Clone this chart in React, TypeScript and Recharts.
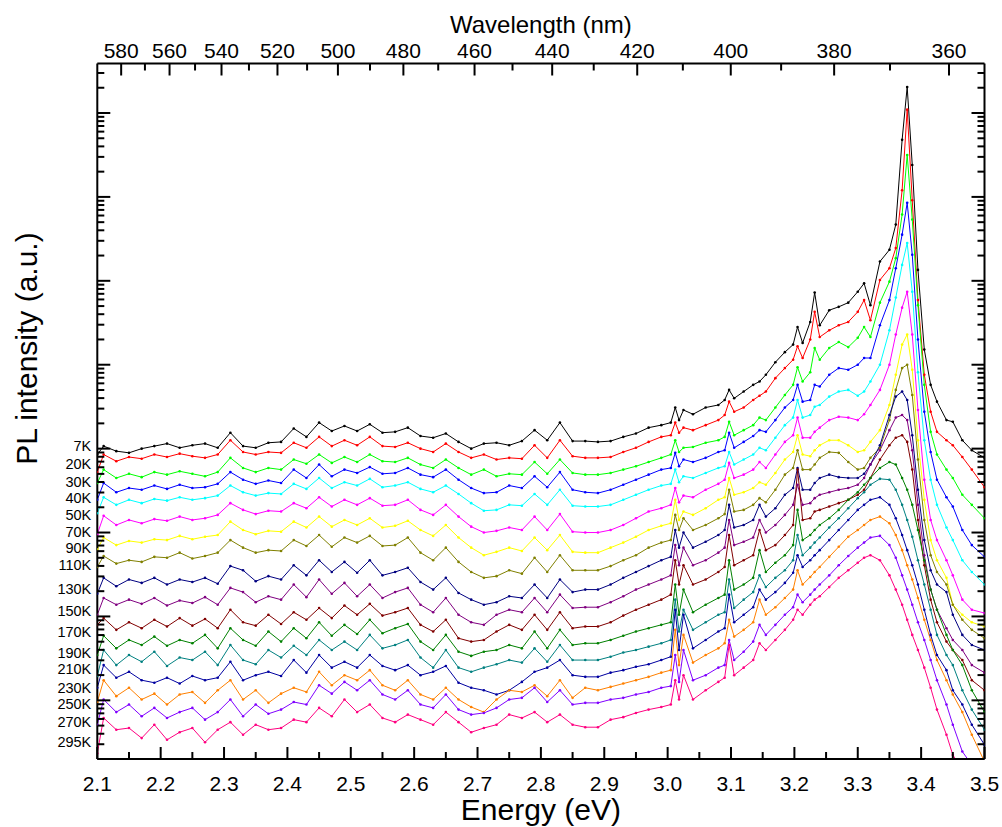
import React from "react";
import { LineChart, Line, XAxis, YAxis, ReferenceDot } from "recharts";

const FONT = "'Liberation Sans', Arial, Helvetica, sans-serif";

// photon energy (eV) of the samples, shared by all spectra
const energy = [
  2.1, 2.11, 2.13, 2.15, 2.17, 2.19, 2.21, 2.23, 2.25, 2.27, 2.29, 2.31, 2.33, 2.35, 2.37, 2.39, 2.41, 2.43, 2.45, 2.47,
  2.49, 2.51, 2.53, 2.55, 2.57, 2.59, 2.61, 2.63, 2.65, 2.67, 2.69, 2.71, 2.73, 2.75, 2.77, 2.79, 2.81, 2.83, 2.85, 2.87,
  2.89, 2.91, 2.93, 2.95, 2.97, 2.99, 3.005, 3.012, 3.018, 3.025, 3.04, 3.06, 3.08, 3.09, 3.097, 3.105, 3.12, 3.135,
  3.145, 3.155, 3.17, 3.185, 3.198, 3.205, 3.213, 3.225, 3.232, 3.24, 3.255, 3.27, 3.285, 3.3, 3.31, 3.32, 3.335, 3.35,
  3.36, 3.37, 3.378, 3.386, 3.395, 3.405, 3.415, 3.425, 3.44, 3.45, 3.465, 3.48, 3.5,
];

// log10 of the PL intensity (offset spectra), one array per temperature
const k7 = [
  3.93, 4.03, 3.97, 3.95, 4.0, 4.03, 4.06, 4.01, 4.04, 4.06, 4.01, 4.19, 4.03, 4.01, 4.07, 4.08, 4.24, 4.14, 4.31, 4.21,
  4.27, 4.21, 4.29, 4.19, 4.2, 4.25, 4.15, 4.13, 4.18, 4.08, 4.0, 4.06, 4.07, 4.04, 4.09, 4.22, 4.1, 4.31, 4.09, 4.09,
  4.08, 4.09, 4.14, 4.18, 4.25, 4.28, 4.31, 4.49, 4.34, 4.46, 4.41, 4.49, 4.52, 4.58, 4.7, 4.6, 4.68, 4.76, 4.8, 4.88,
  5.03, 5.15, 5.24, 5.45, 5.26, 5.51, 5.86, 5.47, 5.65, 5.69, 5.74, 5.87, 5.97, 5.71, 6.23, 6.37, 6.67, 7.68, 8.31, 7.38,
  6.13, 5.18, 4.76, 4.56, 4.34, 4.32, 4.1, 3.98, 3.89,
];
const k20 = [
  3.72, 3.93, 3.85, 3.9, 3.88, 3.93, 3.9, 3.94, 3.91, 3.89, 3.93, 4.1, 3.96, 3.93, 3.96, 3.95, 4.07, 4.01, 4.14, 4.03,
  4.1, 4.04, 4.14, 4.03, 4.02, 4.07, 4.0, 3.96, 4.06, 3.96, 3.89, 3.93, 3.87, 3.89, 3.88, 4.04, 3.89, 4.1, 3.91, 3.89,
  3.89, 3.9, 3.96, 4.01, 4.08, 4.14, 4.16, 4.31, 4.19, 4.25, 4.22, 4.28, 4.34, 4.4, 4.56, 4.44, 4.49, 4.58, 4.63, 4.68,
  4.84, 4.96, 5.06, 5.22, 5.08, 5.3, 5.63, 5.33, 5.41, 5.47, 5.51, 5.63, 5.77, 5.53, 6.01, 6.15, 6.39, 7.08, 8.04, 6.96,
  5.77, 4.88, 4.44, 4.2, 4.1, 4.04, 3.9, 3.75, 3.54,
];
const k30 = [
  3.59, 3.75, 3.65, 3.7, 3.66, 3.72, 3.69, 3.73, 3.7, 3.67, 3.72, 3.89, 3.77, 3.72, 3.77, 3.75, 3.87, 3.82, 3.93, 3.83,
  3.9, 3.84, 3.93, 3.85, 3.84, 3.89, 3.81, 3.77, 3.87, 3.77, 3.69, 3.75, 3.67, 3.7, 3.69, 3.84, 3.7, 3.87, 3.71, 3.69,
  3.69, 3.71, 3.75, 3.79, 3.84, 3.89, 3.93, 4.1, 3.96, 4.01, 4.02, 4.07, 4.1, 4.14, 4.32, 4.16, 4.22, 4.28, 4.37, 4.34,
  4.49, 4.64, 4.76, 4.97, 4.8, 4.91, 5.2, 5.06, 5.2, 5.27, 5.21, 5.32, 5.45, 5.33, 5.74, 5.99, 6.27, 6.79, 7.5, 6.73,
  5.71, 4.76, 4.2, 3.93, 3.75, 3.65, 3.45, 3.33, 3.17,
];
const k40 = [
  3.39, 3.59, 3.48, 3.53, 3.51, 3.56, 3.52, 3.57, 3.53, 3.54, 3.58, 3.72, 3.63, 3.58, 3.62, 3.59, 3.75, 3.65, 3.81, 3.67,
  3.75, 3.71, 3.78, 3.7, 3.71, 3.77, 3.69, 3.66, 3.75, 3.63, 3.53, 3.47, 3.48, 3.56, 3.53, 3.67, 3.54, 3.72, 3.51, 3.48,
  3.47, 3.51, 3.57, 3.63, 3.69, 3.75, 3.77, 3.95, 3.79, 3.87, 3.84, 3.89, 3.96, 3.98, 4.19, 4.01, 4.08, 4.15, 4.22, 4.2,
  4.34, 4.49, 4.58, 4.76, 4.56, 4.58, 4.76, 4.74, 4.88, 4.96, 4.94, 5.0, 5.08, 5.08, 5.47, 5.77, 6.15, 6.55, 6.93, 6.31,
  5.3, 4.44, 3.96, 3.63, 3.42, 3.31, 3.03, 2.85, 2.71,
];
const k50 = [
  3.23, 3.42, 3.33, 3.39, 3.35, 3.4, 3.38, 3.42, 3.39, 3.41, 3.44, 3.56, 3.48, 3.44, 3.47, 3.46, 3.58, 3.52, 3.65, 3.53,
  3.6, 3.56, 3.64, 3.54, 3.56, 3.6, 3.52, 3.48, 3.56, 3.46, 3.35, 3.26, 3.27, 3.33, 3.32, 3.46, 3.33, 3.51, 3.32, 3.31,
  3.31, 3.33, 3.39, 3.45, 3.51, 3.56, 3.58, 3.75, 3.6, 3.67, 3.65, 3.71, 3.77, 3.79, 3.96, 3.81, 3.87, 3.93, 4.01, 3.98,
  4.13, 4.28, 4.37, 4.58, 4.37, 4.4, 4.5, 4.52, 4.62, 4.68, 4.7, 4.63, 4.68, 4.8, 5.0, 5.41, 5.8, 6.19, 6.45, 5.87,
  4.91, 4.1, 3.63, 3.33, 3.06, 2.91, 2.67, 2.53, 2.38,
];
const k70 = [
  2.98, 3.2, 3.09, 3.15, 3.11, 3.16, 3.14, 3.19, 3.15, 3.17, 3.21, 3.35, 3.27, 3.22, 3.26, 3.25, 3.35, 3.29, 3.42, 3.31,
  3.39, 3.33, 3.41, 3.32, 3.33, 3.39, 3.27, 3.21, 3.33, 3.19, 3.07, 3.0, 3.02, 3.06, 3.03, 3.19, 3.03, 3.22, 3.01, 3.0,
  3.0, 3.03, 3.09, 3.17, 3.25, 3.29, 3.33, 3.53, 3.36, 3.44, 3.42, 3.51, 3.58, 3.63, 3.83, 3.65, 3.69, 3.75, 3.84, 3.77,
  3.93, 4.08, 4.16, 4.37, 4.13, 4.13, 4.2, 4.25, 4.34, 4.38, 4.37, 4.34, 4.41, 4.52, 4.7, 5.0, 5.36, 5.68, 5.87, 5.36,
  4.46, 3.63, 3.15, 2.91, 2.67, 2.49, 2.2, 2.08, 2.04,
];
const k90 = [
  2.8, 2.94, 2.85, 2.9, 2.88, 2.92, 2.91, 2.96, 2.92, 2.95, 2.97, 3.13, 3.03, 2.98, 3.02, 3.01, 3.13, 3.06, 3.19, 3.07,
  3.15, 3.09, 3.17, 3.06, 3.08, 3.14, 3.03, 2.96, 3.09, 2.94, 2.82, 2.73, 2.77, 2.82, 2.78, 2.94, 2.79, 2.97, 2.77, 2.76,
  2.76, 2.82, 2.88, 2.95, 3.03, 3.08, 3.11, 3.39, 3.15, 3.25, 3.21, 3.29, 3.39, 3.42, 3.65, 3.45, 3.48, 3.53, 3.6, 3.57,
  3.71, 3.87, 3.96, 4.16, 3.93, 3.91, 3.98, 4.04, 4.1, 4.1, 4.04, 3.96, 3.98, 4.08, 4.22, 4.52, 4.88, 5.24, 5.36, 4.94,
  4.1, 3.39, 2.91, 2.67, 2.46, 2.14, 2.02, 1.93, 1.88,
];
const k110 = [
  2.59, 2.72, 2.63, 2.67, 2.65, 2.71, 2.7, 2.76, 2.69, 2.72, 2.76, 2.91, 2.82, 2.76, 2.79, 2.78, 2.91, 2.84, 2.97, 2.83,
  2.94, 2.88, 2.96, 2.84, 2.85, 2.94, 2.76, 2.67, 2.82, 2.65, 2.53, 2.46, 2.48, 2.55, 2.51, 2.7, 2.53, 2.73, 2.55, 2.55,
  2.55, 2.6, 2.67, 2.73, 2.82, 2.88, 2.91, 3.21, 3.03, 3.17, 3.03, 3.09, 3.17, 3.22, 3.51, 3.25, 3.27, 3.33, 3.41, 3.36,
  3.51, 3.69, 3.77, 3.98, 3.75, 3.75, 3.81, 3.89, 3.96, 3.95, 3.84, 3.75, 3.77, 3.89, 4.01, 4.34, 4.7, 4.96, 5.0, 4.64,
  3.87, 3.15, 2.73, 2.53, 2.38, 2.14, 1.96, 1.84, 1.74,
];
const k130 = [
  2.27, 2.46, 2.36, 2.44, 2.4, 2.46, 2.38, 2.44, 2.41, 2.46, 2.39, 2.6, 2.55, 2.42, 2.48, 2.44, 2.61, 2.49, 2.67, 2.53,
  2.65, 2.52, 2.67, 2.49, 2.53, 2.58, 2.41, 2.32, 2.46, 2.28, 2.2, 2.14, 2.17, 2.24, 2.22, 2.38, 2.22, 2.44, 2.29, 2.32,
  2.32, 2.38, 2.46, 2.53, 2.6, 2.67, 2.71, 3.03, 2.82, 3.0, 2.82, 2.89, 2.97, 3.03, 3.33, 3.06, 3.09, 3.15, 3.33, 3.19,
  3.29, 3.45, 3.53, 3.77, 3.51, 3.51, 3.59, 3.65, 3.69, 3.66, 3.65, 3.65, 3.7, 3.81, 4.04, 4.4, 4.62, 4.68, 4.58, 4.16,
  3.51, 2.91, 2.55, 2.38, 2.29, 2.02, 1.78, 1.66, 1.6,
];
const k150 = [
  2.02, 2.22, 2.14, 2.2, 2.15, 2.22, 2.13, 2.19, 2.16, 2.23, 2.14, 2.34, 2.29, 2.17, 2.24, 2.2, 2.38, 2.23, 2.44, 2.27,
  2.4, 2.24, 2.38, 2.22, 2.29, 2.34, 2.14, 2.05, 2.22, 2.02, 1.93, 1.9, 2.02, 2.08, 2.05, 2.22, 2.05, 2.26, 2.1, 2.11,
  2.11, 2.17, 2.24, 2.32, 2.38, 2.44, 2.49, 2.85, 2.61, 2.82, 2.61, 2.67, 2.76, 2.82, 3.15, 2.85, 2.89, 2.94, 3.15, 3.0,
  3.09, 3.21, 3.33, 3.57, 3.33, 3.35, 3.41, 3.45, 3.48, 3.51, 3.53, 3.57, 3.65, 3.81, 3.98, 4.22, 4.37, 4.4, 4.34, 3.98,
  3.33, 2.73, 2.32, 2.08, 1.86, 1.72, 1.6, 1.42, 1.33,
];
const k170 = [
  1.9, 1.98, 1.84, 1.93, 1.86, 1.96, 1.88, 1.98, 1.89, 1.97, 1.86, 2.08, 1.93, 1.89, 2.02, 1.91, 2.05, 1.96, 2.1, 1.98,
  2.13, 2.02, 2.15, 2.01, 2.05, 2.1, 1.9, 1.82, 1.96, 1.74, 1.7, 1.72, 1.82, 1.9, 1.84, 2.02, 1.84, 2.05, 1.86, 1.88,
  1.88, 1.93, 2.01, 2.08, 2.14, 2.2, 2.26, 2.67, 2.38, 2.61, 2.38, 2.44, 2.53, 2.59, 2.97, 2.61, 2.67, 2.73, 3.03, 2.79,
  2.85, 2.97, 3.09, 3.75, 3.15, 3.17, 3.25, 3.27, 3.31, 3.35, 3.39, 3.45, 3.51, 3.65, 3.87, 4.04, 4.13, 4.16, 4.08, 3.75,
  3.15, 2.61, 2.2, 1.93, 1.7, 1.6, 1.48, 1.24, 1.12,
];
const k190 = [
  1.54, 1.77, 1.62, 1.72, 1.66, 1.76, 1.65, 1.72, 1.68, 1.78, 1.62, 1.86, 1.72, 1.65, 1.82, 1.7, 1.86, 1.74, 1.93, 1.77,
  1.9, 1.79, 1.96, 1.8, 1.86, 1.91, 1.7, 1.6, 1.78, 1.58, 1.53, 1.58, 1.6, 1.66, 1.62, 1.82, 1.62, 1.84, 1.66, 1.68,
  1.68, 1.72, 1.77, 1.82, 1.86, 1.9, 1.93, 2.38, 2.02, 2.32, 2.05, 2.14, 2.22, 2.26, 2.67, 2.32, 2.38, 2.46, 2.79, 2.53,
  2.64, 2.73, 2.85, 3.27, 2.91, 2.97, 3.03, 3.09, 3.17, 3.27, 3.39, 3.48, 3.57, 3.65, 3.77, 3.84, 3.81, 3.65, 3.51, 3.33,
  3.03, 2.67, 2.32, 2.08, 1.78, 1.6, 1.42, 1.12, 0.86,
];
const k210 = [
  1.29, 1.6, 1.42, 1.54, 1.46, 1.58, 1.41, 1.51, 1.48, 1.58, 1.42, 1.66, 1.48, 1.43, 1.6, 1.51, 1.65, 1.54, 1.72, 1.6,
  1.7, 1.6, 1.78, 1.62, 1.66, 1.72, 1.51, 1.39, 1.6, 1.39, 1.34, 1.39, 1.43, 1.48, 1.45, 1.62, 1.46, 1.66, 1.48, 1.48,
  1.48, 1.52, 1.57, 1.6, 1.64, 1.68, 1.72, 2.2, 1.82, 2.08, 1.84, 1.93, 2.02, 2.05, 2.44, 2.1, 2.2, 2.29, 2.49, 2.35,
  2.46, 2.55, 2.67, 2.97, 2.73, 2.82, 2.88, 2.94, 3.06, 3.17, 3.29, 3.41, 3.48, 3.57, 3.64, 3.63, 3.51, 3.33, 3.15, 2.95,
  2.67, 2.38, 2.08, 1.78, 1.54, 1.42, 1.12, 0.89, 0.65,
];
const k230 = [
  1.15, 1.42, 1.27, 1.34, 1.24, 1.21, 1.27, 1.2, 1.29, 1.24, 1.27, 1.46, 1.24, 1.3, 1.34, 1.29, 1.48, 1.33, 1.54, 1.39,
  1.46, 1.39, 1.54, 1.41, 1.36, 1.42, 1.3, 1.34, 1.41, 1.21, 1.15, 1.12, 1.07, 1.12, 1.22, 1.34, 1.39, 1.48, 1.3, 1.28,
  1.28, 1.33, 1.36, 1.4, 1.43, 1.48, 1.52, 2.08, 1.6, 2.02, 1.62, 1.72, 1.82, 1.86, 2.26, 1.93, 2.02, 2.11, 2.32, 2.2,
  2.29, 2.4, 2.52, 2.73, 2.59, 2.67, 2.73, 2.79, 2.91, 3.03, 3.15, 3.27, 3.33, 3.39, 3.42, 3.33, 3.17, 2.97, 2.79, 2.61,
  2.38, 2.08, 1.78, 1.54, 1.36, 1.12, 0.95, 0.71, 0.47,
];
const k250 = [
  0.98, 1.24, 1.05, 1.15, 1.01, 1.08, 0.95, 1.07, 1.1, 0.97, 1.12, 1.24, 1.01, 1.12, 0.97, 1.08, 1.15, 1.1, 1.34, 1.18,
  1.3, 1.24, 1.36, 1.18, 1.12, 1.24, 1.07, 1.01, 1.15, 1.01, 0.92, 0.86, 1.01, 1.12, 1.1, 1.18, 1.05, 1.24, 1.03, 1.15,
  1.12, 1.16, 1.2, 1.24, 1.28, 1.33, 1.36, 1.84, 1.42, 1.78, 1.45, 1.54, 1.62, 1.68, 1.96, 1.76, 1.84, 1.93, 2.2, 2.02,
  2.11, 2.22, 2.32, 2.55, 2.38, 2.47, 2.53, 2.59, 2.71, 2.83, 2.95, 3.03, 3.09, 3.15, 3.19, 3.11, 2.97, 2.79, 2.61, 2.44,
  2.22, 1.96, 1.72, 1.48, 1.24, 1.07, 0.86, 0.59, 0.27,
];
const k270 = [
  0.71, 1.01, 0.86, 0.95, 0.81, 0.91, 0.79, 0.86, 0.91, 0.77, 0.86, 1.01, 0.81, 0.95, 0.84, 0.89, 0.98, 0.95, 1.18, 1.08,
  1.22, 1.12, 1.24, 1.07, 1.01, 1.12, 0.95, 0.91, 1.07, 0.89, 0.83, 0.85, 0.91, 1.01, 1.03, 1.15, 0.98, 1.12, 0.95, 0.97,
  0.97, 1.01, 1.03, 1.07, 1.1, 1.15, 1.17, 1.54, 1.22, 1.6, 1.24, 1.3, 1.39, 1.42, 1.72, 1.48, 1.58, 1.7, 1.9, 1.78,
  1.9, 2.02, 2.11, 2.26, 2.17, 2.26, 2.32, 2.38, 2.49, 2.61, 2.72, 2.82, 2.88, 2.94, 2.96, 2.85, 2.7, 2.49, 2.32, 2.14,
  1.93, 1.72, 1.48, 1.24, 0.95, 0.71, 0.39, 0.23, 0.11,
];
const k295 = [
  0.37, 0.79, 0.65, 0.67, 0.55, 0.71, 0.53, 0.62, 0.67, 0.5, 0.65, 0.74, 0.59, 0.71, 0.65, 0.67, 0.77, 0.74, 0.91, 0.81,
  1.01, 0.86, 0.95, 0.79, 0.74, 0.83, 0.77, 0.71, 0.86, 0.74, 0.62, 0.67, 0.71, 0.83, 0.79, 0.86, 0.74, 0.83, 0.71, 0.68,
  0.68, 0.77, 0.8, 0.85, 0.89, 0.92, 0.95, 1.24, 1.01, 1.3, 1.01, 1.12, 1.22, 1.27, 1.66, 1.3, 1.39, 1.48, 1.68, 1.6,
  1.72, 1.84, 1.96, 2.08, 2.02, 2.14, 2.2, 2.24, 2.35, 2.46, 2.55, 2.64, 2.7, 2.73, 2.67, 2.49, 2.32, 2.14, 1.96, 1.78,
  1.6, 1.39, 1.15, 0.89, 0.59, 0.35, 0.17, 0.05, -0.07,
];

const temps = ["7K", "20K", "30K", "40K", "50K", "70K", "90K", "110K", "130K", "150K", "170K", "190K", "210K", "230K", "250K", "270K", "295K"];
const spectra = [k7, k20, k30, k40, k50, k70, k90, k110, k130, k150, k170, k190, k210, k230, k250, k270, k295];
// log10 intensity at which each temperature tag sits, next to the left axis
const tagLevels = [4.03, 3.82, 3.6, 3.41, 3.21, 3.01, 2.82, 2.61, 2.33, 2.07, 1.82, 1.57, 1.37, 1.15, 0.96, 0.74, 0.5];
const colors = [
  "#000000", "#ff0000", "#00ff00", "#0000ff", "#00ffff", "#ff00ff", "#ffff00", "#808000", "#000080",
  "#800080", "#800000", "#008000", "#008080", "#0000a0", "#ff8000", "#8000ff", "#ff0080",
];

// top axis, wavelength in nm
const wavelengths = [580, 570, 560, 550, 540, 530, 520, 510, 500, 490, 480, 470, 460, 450, 440, 430, 420, 410, 400, 390, 380, 370, 360];

const Y_MIN = 0.301; // log10(2)
const Y_MAX = 8.59;

const energyTicks = Array.from({ length: 29 }, (_, i) => +(2.1 + i * 0.05).toFixed(2));
const wlTicks = wavelengths.map((w) => +(1239.84 / w).toFixed(5));
const logTicks: number[] = [];
for (let d = 0; d <= 8; d++) {
  for (let m = 1; m <= 9; m++) {
    const v = d + Math.log10(m);
    if (v >= Y_MIN - 1e-6 && v <= Y_MAX) logTicks.push(v);
  }
}

const isDecade = (v: number) => Math.abs(v - Math.round(v)) < 1e-6;

function BottomTick(props: any) {
  const { x, y, payload } = props;
  const v = payload.value;
  const major = Math.round(v * 100) % 10 === 0;
  return (
    <g>
      <line x1={x} y1={y} x2={x} y2={y - (major ? 12 : 7)} stroke="#000" strokeWidth={2} />
      {major && (
        <text x={x} y={y + 32} textAnchor="middle" fontSize={21} fontFamily={FONT} fill="#000">
          {v.toFixed(1)}
        </text>
      )}
    </g>
  );
}

function TopTick(props: any) {
  const { x, y, payload } = props;
  const wl = Math.round(1239.84 / payload.value);
  const major = wl % 20 === 0;
  return (
    <g>
      <line x1={x} y1={y} x2={x} y2={y + (major ? 12 : 7)} stroke="#000" strokeWidth={2} />
      {major && (
        <text x={x} y={y - 6} textAnchor="middle" fontSize={21} fontFamily={FONT} fill="#000">
          {wl}
        </text>
      )}
    </g>
  );
}

function LeftTick(props: any) {
  const { x, y, payload } = props;
  const len = isDecade(payload.value) ? 13 : 7;
  return <line x1={x} y1={y} x2={x + len} y2={y} stroke="#000" strokeWidth={2} />;
}

function RightTick(props: any) {
  const { x, y, payload } = props;
  const len = isDecade(payload.value) ? 13 : 7;
  return <line x1={x} y1={y} x2={x - len} y2={y} stroke="#000" strokeWidth={2} />;
}

const energyTitle = (p: any) => {
  const vb = p.viewBox;
  return (
    <text x={vb.x + vb.width / 2} y={vb.y + 62} textAnchor="middle" fontSize={30} fontFamily={FONT} fill="#000">
      Energy (eV)
    </text>
  );
};

const wavelengthTitle = (p: any) => {
  const vb = p.viewBox;
  return (
    <text x={vb.x + vb.width / 2} y={vb.y - 30.5} textAnchor="middle" fontSize={24} fontFamily={FONT} fill="#000">
      Wavelength (nm)
    </text>
  );
};

const intensityTitle = (p: any) => {
  const vb = p.viewBox;
  const cx = vb.x - 60;
  const cy = vb.y + 285;
  return (
    <text transform={`translate(${cx},${cy}) rotate(-90)`} textAnchor="middle" fontSize={30} fontFamily={FONT} fill="#000">
      PL intensity (a.u.)
    </text>
  );
};

const tagLabel = (name: string) => (p: any) => {
  const vb = p.viewBox || {};
  const x = (vb.x ?? p.x) + (vb.width ?? 0) / 2;
  const y = (vb.y ?? p.y) + (vb.height ?? 0) / 2;
  return (
    <text x={x - 6} y={y} textAnchor="end" dominantBaseline="central" fontSize={14.5} fontFamily={FONT} fill="#000">
      {name}
    </text>
  );
};

export default function App() {
  const axisLine = { stroke: "#000", strokeWidth: 2 };
  const rows = spectra.map((vals) => energy.map((e, j) => ({ e, v: vals[j] })));
  return (
    <div style={{ position: "absolute", left: 0, top: 0, width: 1002, height: 827, background: "#fff" }}>
      <LineChart width={1002} height={827} margin={{ top: 63.5, right: 17.5, bottom: 68, left: 97.3 }}>
        <XAxis
          xAxisId="e"
          type="number"
          dataKey="e"
          domain={[2.1, 3.5]}
          allowDataOverflow
          ticks={energyTicks}
          interval={0}
          mirror
          height={1}
          tickSize={0}
          tickMargin={0}
          tickLine={false}
          axisLine={axisLine}
          tick={<BottomTick />}
          label={{ content: energyTitle }}
        />
        <XAxis
          xAxisId="w"
          orientation="top"
          type="number"
          dataKey="e"
          domain={[2.1, 3.5]}
          allowDataOverflow
          ticks={wlTicks}
          interval={0}
          mirror
          height={1}
          tickSize={0}
          tickMargin={0}
          tickLine={false}
          axisLine={axisLine}
          tick={<TopTick />}
          label={{ content: wavelengthTitle }}
        />
        <YAxis
          yAxisId="l"
          type="number"
          domain={[Y_MIN, Y_MAX]}
          allowDataOverflow
          ticks={logTicks}
          interval={0}
          mirror
          width={1}
          tickSize={0}
          tickMargin={0}
          tickLine={false}
          axisLine={axisLine}
          tick={<LeftTick />}
          label={{ content: intensityTitle }}
        />
        <YAxis
          yAxisId="r"
          orientation="right"
          type="number"
          domain={[Y_MIN, Y_MAX]}
          allowDataOverflow
          ticks={logTicks}
          interval={0}
          mirror
          width={1}
          tickSize={0}
          tickMargin={0}
          tickLine={false}
          axisLine={axisLine}
          tick={<RightTick />}
        />
        {/* carries the top (wavelength) and right axes; drawn without ink */}
        <Line
          xAxisId="w"
          yAxisId="r"
          data={rows[0]}
          dataKey="v"
          stroke="none"
          dot={false}
          activeDot={false}
          legendType="none"
          isAnimationActive={false}
        />
        {rows.map((data, i) => (
          <Line
            key={temps[i]}
            xAxisId="e"
            yAxisId="l"
            data={data}
            dataKey="v"
            type="linear"
            stroke={colors[i]}
            strokeWidth={1}
            dot={{ r: 1.3, fill: colors[i], stroke: colors[i], strokeWidth: 0 }}
            activeDot={false}
            isAnimationActive={false}
          />
        ))}
        {temps.map((t, i) => (
          <ReferenceDot
            key={`tag-${t}`}
            xAxisId="e"
            yAxisId="l"
            x={2.1}
            y={tagLevels[i]}
            r={0}
            fill="none"
            stroke="none"
            label={{ content: tagLabel(t) }}
          />
        ))}
      </LineChart>
    </div>
  );
}
